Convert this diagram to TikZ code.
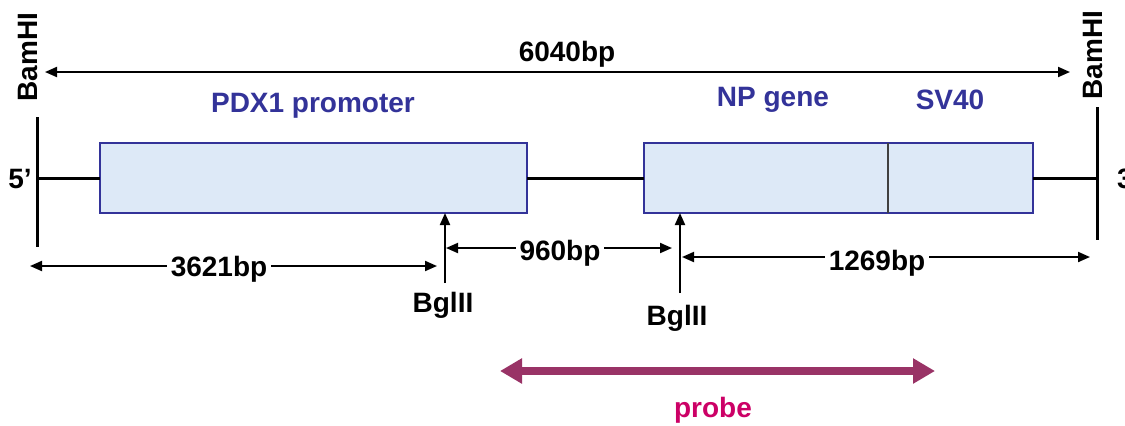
\documentclass[tikz,border=0pt]{standalone}
\usepackage{fontspec}
\setmainfont{Liberation Sans}
\usetikzlibrary{positioning,arrows.meta}
\definecolor{ink}{HTML}{000000}
\definecolor{boxblue}{HTML}{333399}
\definecolor{boxfill}{HTML}{DDE9F7}
\definecolor{probeline}{HTML}{993366}
\definecolor{probetext}{HTML}{CC0066}
\tikzset{
  element/.style={draw=boxblue, line width=1.2pt, fill=boxfill, inner sep=0pt, outer sep=0pt, minimum height=35pt, anchor=north west},
  elabel/.style={text=boxblue},
  dim/.style={{Triangle[length=6pt,width=5pt]}-{Triangle[length=6pt,width=5pt]}, line width=1pt},
  site/.style={-{Triangle[length=6pt,width=5pt]}, line width=1pt},
  dimlabel/.style={fill=white, inner sep=2pt},
  bar/.style={line width=1.5pt}
}
\begin{document}
\begin{tikzpicture}[x=0.5pt, y=-0.5pt, font=\fontsize{14}{16}\selectfont\bfseries]
  \useasboundingbox (0,0) rectangle (1125,425);
  % end bars and restriction sites
  \coordinate (ltop) at (37,117); \coordinate (lbot) at (37,247);
  \coordinate (rtop) at (1097,107); \coordinate (rbot) at (1097,240);
  \coordinate (lmid) at (37,178); \coordinate (rmid) at (1097,178);
  \draw[bar] (ltop) -- (lbot); \draw[bar] (rtop) -- (rbot);
  \node[rotate=90] (bamL) at (28,57) {BamHI};
  \node[rotate=90] (bamR) at (1093,55) {BamHI};
  \node (five) at (20,179) {5’};
  \node[anchor=west] (three) at (1110,179) {3’};

  % elements
  \node[element, minimum width=213.5pt] (pdx) at (100,143) {};
  \node[element, minimum width=194.5pt] (np) at (644,143) {};
  \draw[line width=0.6pt, ink!75] (888,143) -- (888,213);
  \node[elabel] (pdxlbl) at (313,106) {PDX1 promoter};
  \node[elabel] (nplbl) at (773,100) {NP gene};
  \node[elabel] (svlbl) at (950,100) {SV40};

  \draw[bar] (lmid) -- (pdx.west);
  \draw[bar] (pdx.east) -- (np.west);
  \draw[bar] (np.east) -- (rmid);

  % full length
  \coordinate (totL) at (45,72); \coordinate (totR) at (1070,72);
  \draw[dim] (totL) -- (totR);
  \node (tot) at (567,54) {6040bp};

  % BglII sites
  \coordinate (cut1) at (445,283); \coordinate (cut2) at (680,293);
  \draw[site] (cut1) -- (cut1 |- pdx.south);
  \draw[site] (cut2) -- (cut2 |- np.south);
  \node (bgl1) at (443,305) {BglII};
  \node (bgl2) at (677,318) {BglII};

  % fragment sizes
  \coordinate (aL) at (30,266); \coordinate (aR) at (437,266);
  \draw[dim] (aL) -- (aR);
  \node[dimlabel] (fragA) at (219,269) {3621bp};
  \coordinate (bL) at (446,248); \coordinate (bR) at (672,248);
  \draw[dim] (bL) -- (bR);
  \node[dimlabel] (fragB) at (560,253) {960bp};
  \coordinate (cL) at (682,257); \coordinate (cR) at (1090,257);
  \draw[dim] (cL) -- (cR);
  \node[dimlabel] (fragC) at (877,263) {1269bp};

  % probe
  \coordinate (pL) at (500,371); \coordinate (pR) at (935,371);
  \draw[line width=4pt, probeline, {Triangle[length=11pt,width=12pt]}-{Triangle[length=11pt,width=12pt]}] (pL) -- (pR);
  \node[text=probetext] (probe) at (713,410) {probe};
\end{tikzpicture}
\end{document}
